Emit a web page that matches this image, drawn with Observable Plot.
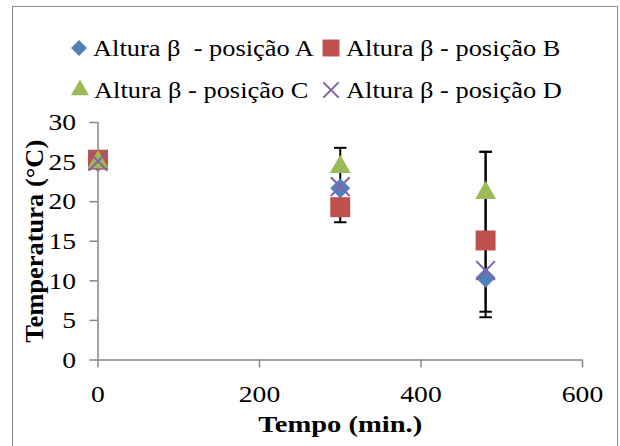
<!DOCTYPE html>
<html><head><meta charset="utf-8">
<script src="https://cdn.jsdelivr.net/npm/d3@7"></script>
<script src="https://cdn.jsdelivr.net/npm/@observablehq/plot@0.6"></script>
<style>
body{margin:0;width:620px;height:446px;overflow:hidden;background:#fff;position:relative;font-family:"Liberation Serif",Tinos,"Times New Roman",Times,serif;}
#frame{position:absolute;left:12px;top:6px;width:606px;height:470px;border:1.5px solid #8c8c8c;box-sizing:border-box;}
.item{position:absolute;display:flex;align-items:center;height:30px;font-size:24px;color:#000;white-space:pre;}
.item svg{margin-right:4.5px;}
.item span{display:inline-block;transform:scaleX(1.1);transform-origin:left center;}
#chart{position:absolute;left:0;top:110px;}
</style></head><body>
<div id="frame"></div>
<div id="legend"></div>
<div id="chart"></div>
<script>
const times = [0, 300, 480];
const seriesNames = ["Altura β  - posição A", "Altura β - posição B", "Altura β - posição C", "Altura β - posição D"];
const seriesA = [25.0, 21.7, 10.4];
const seriesB = [25.3, 19.3, 15.1];
const seriesC = [25.0, 24.4, 21.1];
const seriesD = [25.1, 21.9, 11.3];
const errTime = [300, 480, 480];
const errLow = [17.4, 6.1, 5.4];
const errHigh = [26.8, 26.3, 26.3];
const xTicks = [0, 200, 400, 600];
const yTicks = [0, 5, 10, 15, 20, 25, 30];
const xLabel = "Tempo (min.)";
const yLabel = "Temperatura (°C)";

const FONT = "'Liberation Serif',Tinos,'Times New Roman',Times,serif";
const colors = ["#4F81BD", "#C0504D", "#9BBB59", "#8064A2"];
const symbols = ["diamond2", "square2", "triangle2", "times"];
const d3Symbols = [d3.symbolDiamond2, d3.symbolSquare2, d3.symbolTriangle2, d3.symbolTimes];
const markR = [9, 12.7, 10, 8.6];
const legendR = [7.2, 10.8, 8.6, 7];

const allSeries = [seriesA, seriesB, seriesC, seriesD];
const rows = (vals, k) => times.map((t, i) => ({t, v: vals[i], s: seriesNames[k]}));
const errData = errTime.map((t, i) => ({t, lo: errLow[i], hi: errHigh[i]}));
const cap = {draw(ctx, size) { const r = Math.sqrt(size / Math.PI); ctx.moveTo(-r, 0); ctx.lineTo(r, 0); }};

const plot = Plot.plot({
  width: 620, height: 336,
  marginLeft: 97.5, marginRight: 38, marginTop: 12, marginBottom: 86.5,
  x: {domain: [0, 600]},
  y: {domain: [0, 30]},
  style: {fontFamily: FONT, background: "transparent", overflow: "visible", color: "black"},
  marks: [
    Plot.axisX({ticks: xTicks, tickSize: 8, tickPadding: 17, stroke: "#868686", strokeWidth: 1.5, fill: "black", fontSize: 24, fontFamily: FONT, label: null, className: "tl"}),
    Plot.axisY({ticks: yTicks, tickSize: 8, tickPadding: 14, stroke: "#868686", strokeWidth: 1.5, fill: "black", fontSize: 24, fontFamily: FONT, label: null, className: "tl"}),
    Plot.ruleY([0], {stroke: "#868686", strokeWidth: 1.5}),
    Plot.ruleX([0], {stroke: "#868686", strokeWidth: 1.5}),
    Plot.ruleX(errData, {x: "t", y1: "lo", y2: "hi", stroke: "black", strokeWidth: 2}),
    Plot.dot(errData, {x: "t", y: "lo", symbol: cap, r: 6.2, stroke: "black", strokeWidth: 2}),
    Plot.dot(errData, {x: "t", y: "hi", symbol: cap, r: 6.2, stroke: "black", strokeWidth: 2}),
    ...allSeries.map((vals, k) => Plot.dot(rows(vals, k), {
      x: "t", y: "v", symbol: symbols[k], r: markR[k],
      fill: k === 3 ? "none" : colors[k], stroke: k === 3 ? colors[k] : "none", strokeWidth: 2
    })),
    Plot.text([yLabel], {text: d => d, frameAnchor: "left", textAnchor: "middle", lineAnchor: "middle", dx: -63.5, rotate: -90, fontSize: 25, fontWeight: "bold", fontFamily: FONT, fill: "black", className: "ylab"}),
    Plot.text([xLabel], {text: d => d, frameAnchor: "bottom", textAnchor: "middle", dy: 72, fontSize: 24, fontWeight: "bold", fontFamily: FONT, fill: "black", className: "xlab"})
  ]
});
const stretch = (sel, f) => plot.querySelectorAll(sel).forEach(t => {
  const tr = t.getAttribute("transform") || "";
  t.setAttribute("transform", tr + ` scale(${f},1)`);
});
stretch(".tl text", 1.15);
stretch(".ylab text", 1.06);
stretch(".xlab text", 1.19);
document.getElementById("chart").appendChild(plot);

// legend
const legendPos = [[78.8, 48], [331, 48], [79.6, 90], [331.4, 90]];
const legend = d3.select("#legend");
seriesNames.forEach((name, k) => {
  const [cx, cy] = legendPos[k];
  const item = legend.append("div").attr("class", "item")
    .style("left", (cx - 10) + "px").style("top", (cy - 15) + "px");
  const s = item.append("svg").attr("width", 20).attr("height", 20);
  s.append("path")
    .attr("transform", "translate(10,10)")
    .attr("d", d3.symbol(d3Symbols[k], Math.PI * legendR[k] * legendR[k])())
    .attr("fill", k === 3 ? "none" : colors[k])
    .attr("stroke", k === 3 ? colors[k] : "none")
    .attr("stroke-width", 2);
  item.append("span").text(name);
});
</script>
</body></html>
